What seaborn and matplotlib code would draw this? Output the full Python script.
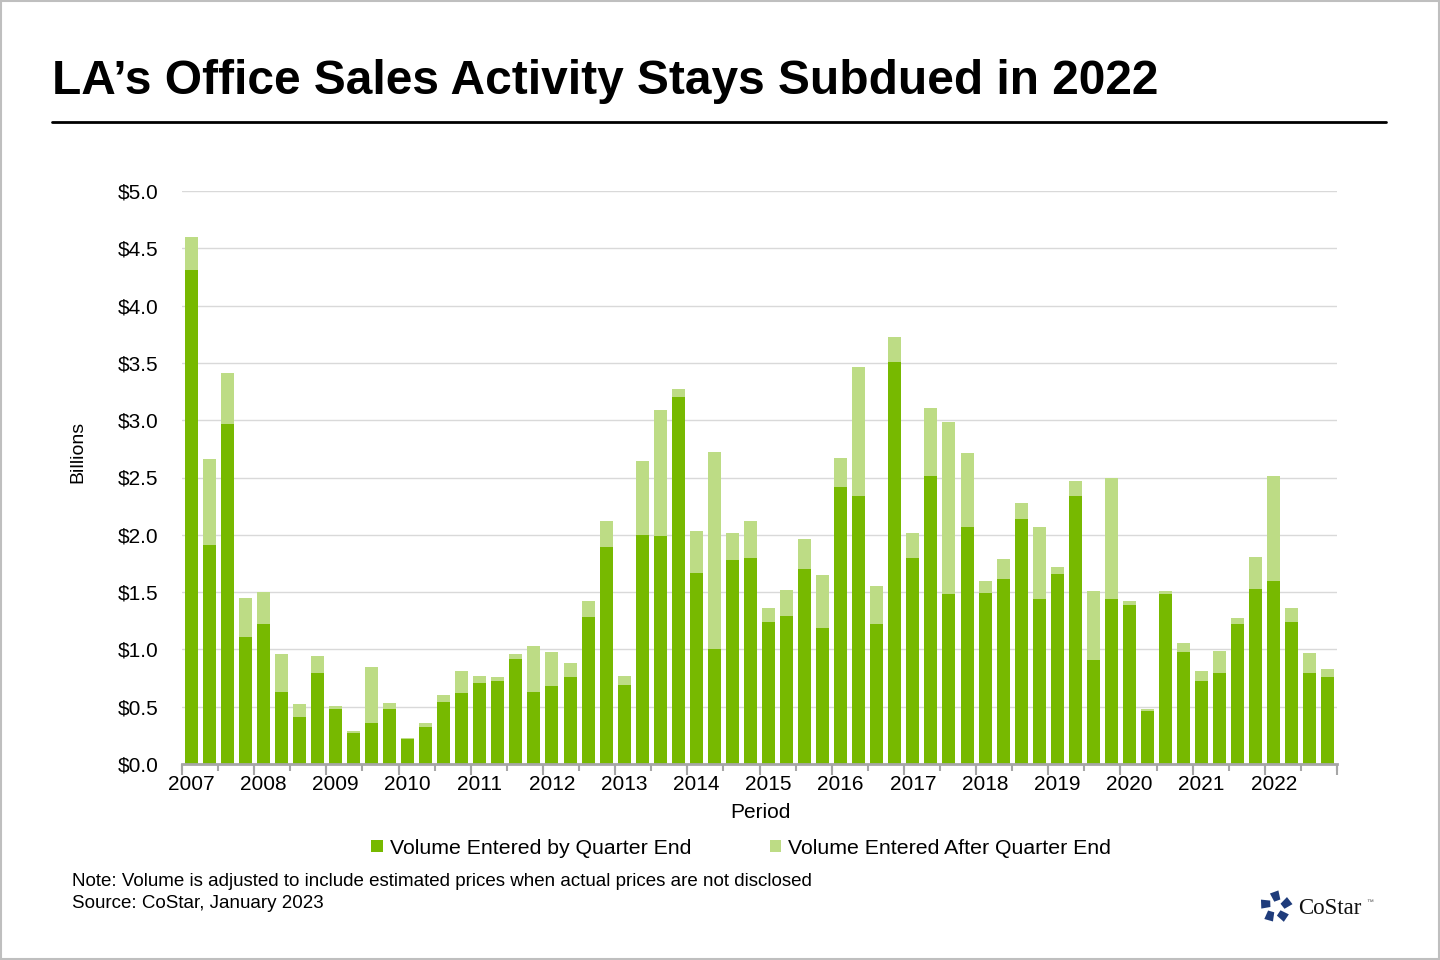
import numpy as np
import pandas as pd
import matplotlib
matplotlib.use("Agg")
import matplotlib.pyplot as plt
from matplotlib.patches import Patch, Rectangle, Polygon
from matplotlib.lines import Line2D
import seaborn as sns

# quarterly sales volume, $ billions (2007 Q1 .. 2022 Q4)
years = list(range(2007, 2023))
quarters = [f"{y} Q{q}" for y in years for q in range(1, 5)]

by_quarter_end = [
    4.31, 1.91, 2.97, 1.11,
    1.22, 0.63, 0.41, 0.79,
    0.48, 0.27, 0.36, 0.48,
    0.22, 0.32, 0.54, 0.62,
    0.71, 0.72, 0.92, 0.63,
    0.68, 0.76, 1.28, 1.89,
    0.69, 2.00, 1.99, 3.20,
    1.67, 1.00, 1.78, 1.80,
    1.24, 1.29, 1.70, 1.19,
    2.42, 2.34, 1.22, 3.51,
    1.80, 2.51, 1.48, 2.07,
    1.49, 1.61, 2.14, 1.44,
    1.66, 2.34, 0.91, 1.44,
    1.39, 0.46, 1.48, 0.98,
    0.72, 0.79, 1.22, 1.53,
    1.60, 1.24, 0.79, 0.76,
]
total_volume = [
    4.60, 2.66, 3.41, 1.45,
    1.50, 0.96, 0.52, 0.94,
    0.51, 0.29, 0.85, 0.53,
    0.23, 0.36, 0.60, 0.81,
    0.77, 0.76, 0.96, 1.03,
    0.98, 0.88, 1.42, 2.12,
    0.77, 2.64, 3.09, 3.27,
    2.03, 2.72, 2.02, 2.12,
    1.36, 1.52, 1.96, 1.65,
    2.67, 3.46, 1.55, 3.73,
    2.02, 3.11, 2.98, 2.71,
    1.60, 1.79, 2.28, 2.07,
    1.72, 2.47, 1.51, 2.50,
    1.42, 0.48, 1.51, 1.06,
    0.81, 0.99, 1.27, 1.81,
    2.51, 1.36, 0.97, 0.83,
]
series_names = ["Volume Entered by Quarter End", "Volume Entered After Quarter End"]
y_ticks = [0.0, 0.5, 1.0, 1.5, 2.0, 2.5, 3.0, 3.5, 4.0, 4.5, 5.0]

DARK = "#77B900"
LIGHT = "#BDDC85"
GRID = "#D9D9D9"
AXIS_GREY = "#A6A6A6"

df = pd.DataFrame({"quarter": quarters,
                   "by_end": by_quarter_end,
                   "total": total_volume})

sns.set_theme(style="white")
plt.rcParams["font.family"] = ["Liberation Sans", "DejaVu Sans"]
plt.rcParams["text.color"] = "black"
plt.rcParams["axes.labelcolor"] = "black"
plt.rcParams["xtick.color"] = "black"
plt.rcParams["ytick.color"] = "black"

fig = plt.figure(figsize=(14.4, 9.6), dpi=100)
ax = fig.add_axes([182 / 1440, 1 - 764 / 960, (1337 - 182) / 1440, (764 - 191) / 960])

# stacked look: total in light green, the part entered by quarter end on top in dark green
sns.barplot(data=df, x="quarter", y="total", color=LIGHT, saturation=1,
            width=0.72, linewidth=0, edgecolor="none", ax=ax, zorder=3)
sns.barplot(data=df, x="quarter", y="by_end", color=DARK, saturation=1,
            width=0.72, linewidth=0, edgecolor="none", ax=ax, zorder=4)

n = len(quarters)
ax.set_xlim(-0.5, n - 0.5)
ax.set_ylim(0, 5.0)
ax.set_yticks(y_ticks)
ax.set_yticklabels([f"${v:.1f}" for v in y_ticks])
ax.yaxis.grid(True, color=GRID, linewidth=1, zorder=0)
ax.xaxis.grid(False)

# year labels under Q1 bars, small ticks every half year, longer ticks at year edges
ax.set_xticks(np.arange(0, n, 4))
ax.set_xticklabels([str(y) for y in years])
ax.set_xticks(np.arange(-0.5, n, 2), minor=True)
ax.tick_params(axis="x", which="major", length=0, pad=8, labelsize=15, labelcolor="black")
ax.tick_params(axis="x", which="minor", length=5, width=1.5, color=AXIS_GREY, direction="out", bottom=True)
ax.tick_params(axis="y", length=0, pad=17, labelsize=15, labelcolor="black")

sec = ax.secondary_xaxis("bottom")
sec.set_xticks(np.arange(-0.5, n, 4))
sec.set_xticklabels([])
sec.tick_params(length=8, width=1.5, color=AXIS_GREY)
sec.spines["bottom"].set_visible(False)

for s in ["top", "right", "left"]:
    ax.spines[s].set_visible(False)
ax.spines["bottom"].set_color(AXIS_GREY)
ax.spines["bottom"].set_linewidth(2)
ax.spines["bottom"].set_zorder(5)

ax.set_xlabel("")
ax.set_ylabel("")
fig.text(78 / 1440, 1 - 452 / 960, "Billions", rotation=90, ha="center", va="center", fontsize=14)
fig.text(760 / 1440, 1 - 813 / 960, "Period", ha="center", va="center", fontsize=15)

# title and rule
fig.text(52 / 1440, 1 - 81 / 960, "LA\u2019s Office Sales Activity Stays Subdued in 2022",
         ha="left", va="center", fontsize=34.5, fontweight="bold", color="black")
fig.add_artist(Line2D([52 / 1440, 1386 / 1440], [1 - 122 / 960] * 2, color="black", linewidth=2))

# legend
handles = [Patch(facecolor=DARK, edgecolor="none"), Patch(facecolor=LIGHT, edgecolor="none")]
fig.legend(handles, series_names, loc="center", bbox_to_anchor=(741 / 1440, 1 - 848 / 960),
           ncol=2, frameon=False, fontsize=15.3, handlelength=0.55, handleheight=0.55,
           handletextpad=0.3, columnspacing=3.7)

# notes
fig.text(72 / 1440, 1 - 881 / 960,
         "Note: Volume is adjusted to include estimated prices when actual prices are not disclosed",
         ha="left", va="center", fontsize=13.5)
fig.text(72 / 1440, 1 - 904 / 960, "Source: CoStar, January 2023",
         ha="left", va="center", fontsize=13.5)

# CoStar logo
NAVY = "#1F3C7B"
cx, cy, r = 1276, 907, 10
for k in range(5):
    a = np.deg2rad(90 + 72 * k)
    px, py = cx + r * np.cos(a), cy - r * np.sin(a)
    b = a + np.deg2rad(20)
    pts = []
    for da, rr in [(-40, 7), (40, 7), (140, 5), (220, 5)]:
        t = b + np.deg2rad(da)
        pts.append(((px + rr * np.cos(t)) / 1440, 1 - (py - rr * np.sin(t)) / 960))
    fig.add_artist(Polygon(pts, closed=True, facecolor=NAVY, edgecolor="none",
                           transform=fig.transFigure))
fig.text(1298 / 1440, 1 - 908 / 960, "CoStar", ha="left", va="center", fontsize=16.5,
         color="#111111", family=["Liberation Serif", "DejaVu Serif"])
fig.text(1366 / 1440, 1 - 902 / 960, "\u2122", ha="left", va="center", fontsize=5, color="#555555")

# thin frame round the slide
fig.add_artist(Rectangle((0.001, 0.001), 0.998, 0.998, transform=fig.transFigure,
                         fill=False, edgecolor="#BFBFBF", linewidth=1.5))

fig.savefig("out.png", dpi=100)
